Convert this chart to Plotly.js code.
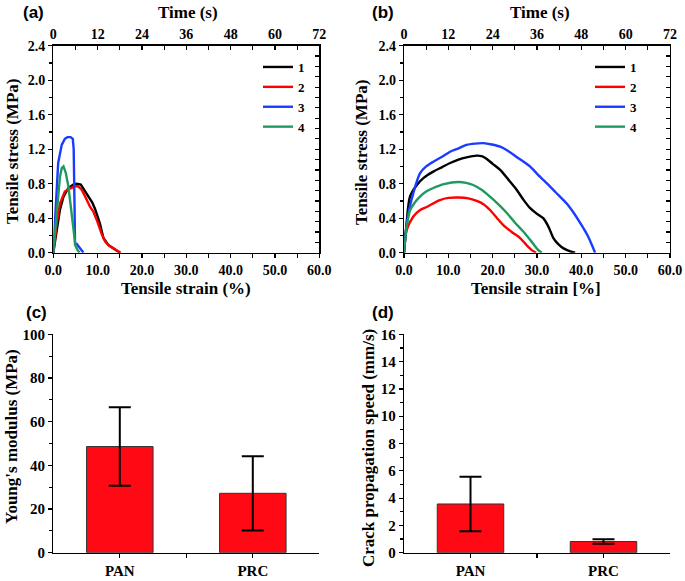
<!DOCTYPE html>
<html><head><meta charset="utf-8">
<script src="https://cdn.plot.ly/plotly-3.0.1.min.js"></script>
<style>html,body{margin:0;padding:0;background:#fff}#chart{width:685px;height:581px}</style>
</head><body><div id="chart"></div>
<script>
// ---- Panel (a) tensile curves ----
const a1x=[0,0.8,1.5,2.3,3.4,4.5,5.3,6.2,6.8,7.9,8.8,9.4,10.5,11.3,12.4,13.6,15.0];
const a1y=[0,0.3,0.5,0.65,0.75,0.79,0.80,0.79,0.74,0.65,0.58,0.51,0.34,0.17,0.09,0.05,0];
const a2x=[0,0.8,1.5,2.6,3.6,4.9,5.6,6.4,7.2,8.3,9.0,9.8,10.9,11.7,12.6,14.0,15.2];
const a2y=[0,0.35,0.57,0.71,0.74,0.77,0.77,0.73,0.65,0.53,0.48,0.38,0.22,0.13,0.08,0.04,0];
const a3x=[0,0.5,1.1,1.9,2.6,3.2,3.9,4.4,4.6,4.8,4.9,5.3,6.0,6.8];
const a3y=[0,0.55,1.04,1.25,1.32,1.34,1.34,1.32,1.2,0.5,0.1,0.1,0.05,0];
const a4x=[0,0.6,1.1,1.5,1.9,2.3,2.8,3.4,3.8,4.1,4.5,4.7,5.0,5.5,5.9];
const a4y=[0,0.4,0.65,0.88,0.98,1.0,0.93,0.77,0.6,0.42,0.25,0.15,0.08,0.03,0];
// ---- Panel (b) tensile curves ----
const b1x=[0,0.6,1.35,2.9,4.5,6.6,8.5,10.4,12.3,14.1,16.4,17.5,18.6,20.0,21.7,23.5,25.4,27.0,28.4,30.0,31.4,32.6,33.7,34.8,36.0,37.5,38.6];
const b1y=[0,0.35,0.65,0.785,0.87,0.94,0.99,1.04,1.08,1.105,1.125,1.12,1.09,1.03,0.96,0.85,0.73,0.61,0.52,0.45,0.40,0.30,0.17,0.1,0.05,0.015,0];
const b2x=[0,0.6,2.1,3.5,5.1,8.1,10.0,12.3,14.5,16.4,18.0,19.4,21.0,22.4,24.3,26.2,27.6,28.8,29.8];
const b2y=[0,0.26,0.42,0.49,0.53,0.61,0.635,0.64,0.63,0.60,0.56,0.495,0.40,0.32,0.24,0.17,0.09,0.03,0];
const b3x=[0,0.8,2.1,3.6,5.0,6.6,8.5,10.4,12.3,14.1,16.0,17.9,19.8,21.7,23.5,25.4,28.4,30.3,32.9,34.8,36.7,38.3,39.8,41.5,43.1];
const b3y=[0,0.4,0.69,0.92,1.0,1.055,1.11,1.17,1.21,1.25,1.265,1.27,1.255,1.23,1.18,1.11,1.0,0.90,0.77,0.67,0.57,0.46,0.34,0.19,0];
const b4x=[0,0.6,1.35,2.4,3.6,5.0,6.6,9.0,12.3,14.0,15.6,17.5,19.4,21.3,23.2,25.0,26.9,28.6,30.3,31.1];
const b4y=[0,0.3,0.49,0.58,0.65,0.71,0.75,0.795,0.82,0.81,0.785,0.73,0.65,0.56,0.46,0.35,0.245,0.14,0.03,0];
const seriesNames=['1','2','3','4'];
// ---- Panels (c),(d) bars ----
const categories=['PAN','PRC'];
const modulus=[48.6,27.2];
const modulusErr=[18.0,17.0];
const crackSpeed=[3.57,0.82];
const crackErr=[2.0,0.17];

const colors=['#000000','#ff0000','#1a3cff','#1f9a5f'];
const serif='Liberation Serif';
const tickFont={family:serif,size:14,color:'#000',weight:'bold'};
const titleFont={family:serif,size:17,color:'#000',weight:'bold'};

const data=[];
const aX=[a1x,a2x,a3x,a4x], aY=[a1y,a2y,a3y,a4y];
const bX=[b1x,b2x,b3x,b4x], bY=[b1y,b2y,b3y,b4y];
for(let i=0;i<4;i++){
  data.push({type:'scatter',mode:'lines',x:aX[i],y:aY[i],name:seriesNames[i],xaxis:'x',yaxis:'y',
    line:{color:colors[i],width:2.4},legend:'legend'});
}
for(let i=0;i<4;i++){
  data.push({type:'scatter',mode:'lines',x:bX[i],y:bY[i],name:seriesNames[i],xaxis:'x3',yaxis:'y3',
    line:{color:colors[i],width:2.4,shape:'spline',smoothing:0.8},legend:'legend2'});
}
// empty carrier traces so the secondary (time / right) axes get drawn
data.push({type:'scatter',mode:'lines',x:[null],y:[null],xaxis:'x2',yaxis:'y2',showlegend:false,hoverinfo:'skip'});
data.push({type:'scatter',mode:'lines',x:[null],y:[null],xaxis:'x4',yaxis:'y4',showlegend:false,hoverinfo:'skip'});
const catIdx=categories.map((c,i)=>i);
data.push({type:'bar',x:catIdx,y:modulus,xaxis:'x5',yaxis:'y5',width:0.5,showlegend:false,
  marker:{color:'#ff0a14',line:{color:'#333',width:1}},
  error_y:{type:'data',array:modulusErr,visible:true,color:'#000',thickness:2,width:11}});
data.push({type:'bar',x:catIdx,y:crackSpeed,xaxis:'x6',yaxis:'y6',width:0.5,showlegend:false,
  marker:{color:'#ff0a14',line:{color:'#333',width:1}},
  error_y:{type:'data',array:crackErr,visible:true,color:'#000',thickness:2,width:11}});

const W=685,H=581;
const dxL=[53.3/W,319.3/W], dxR=[404/W,670/W];
const dyT=[(H-252.7)/H,(H-45.7)/H], dyB=[(H-552.7)/H,(H-334.3)/H];
const base={showgrid:false,zeroline:false,showline:true,linecolor:'#000',linewidth:1.3,
  tickcolor:'#000',tickwidth:1.2,tickfont:tickFont};

function strainAxis(dom,anchor){return Object.assign({},base,{domain:dom,anchor:anchor,range:[0,60],
  dtick:10,tick0:0,tickformat:'.1f',ticks:'outside',ticklen:4,
  minor:{dtick:5,ticks:'outside',ticklen:4,tickcolor:'#000'}});}
function timeAxis(ov,anchor){return Object.assign({},base,{overlaying:ov,anchor:anchor,side:'top',range:[0,72],
  dtick:12,tick0:0,ticks:'inside',ticklen:4,
  minor:{dtick:6,ticks:'inside',ticklen:4,tickcolor:'#000'}});}
function stressAxis(dom,anchor){return Object.assign({},base,{domain:dom,anchor:anchor,range:[0,2.4],
  dtick:0.4,tick0:0,tickformat:'.1f',ticks:'outside',ticklen:4,
  minor:{dtick:0.2,ticks:'outside',ticklen:3,tickcolor:'#000'}});}
function rightAxis(ov,anchor){return Object.assign({},base,{overlaying:ov,anchor:anchor,side:'right',range:[0,2.4],
  dtick:0.12,tick0:0,ticks:'inside',ticklen:4,showticklabels:false});}
function catAxis(dom,anchor){return Object.assign({},base,{domain:dom,anchor:anchor,range:[-0.5,1.5],
  tickmode:'array',tickvals:[0,0.5,1],ticktext:[categories[0],'',categories[1]],ticks:'outside',ticklen:4,
  tickfont:{family:serif,size:15,color:'#000',weight:'bold'}});}
function barY(dom,anchor,max,dt){return Object.assign({},base,{domain:dom,anchor:anchor,range:[0,max],
  dtick:dt,tick0:0,ticks:'outside',ticklen:4,
  minor:{dtick:dt/2,ticks:'outside',ticklen:3,tickcolor:'#000'},
  tickfont:{family:serif,size:15,color:'#000',weight:'bold'}});}

function ann(text,xpx,ypx,opts){return Object.assign({text:text,xref:'paper',yref:'paper',x:xpx/W,y:1-ypx/H,
  xanchor:'center',yanchor:'middle',showarrow:false,font:titleFont},opts||{});}
const panelFont={family:'Liberation Sans',size:17,color:'#000',weight:'bold'};

const legendBase={bgcolor:'rgba(0,0,0,0)',borderwidth:0,font:{family:serif,size:13,color:'#000',weight:'bold'},
  xanchor:'left',yanchor:'top',tracegroupgap:0,itemwidth:30};

const layout={
  width:W,height:H,margin:{l:0,r:0,t:0,b:0},paper_bgcolor:'#fff',plot_bgcolor:'rgba(0,0,0,0)',
  xaxis:strainAxis(dxL,'y'), xaxis2:timeAxis('x','y'),
  yaxis:stressAxis(dyT,'x'), yaxis2:rightAxis('y','x'),
  xaxis3:strainAxis(dxR,'y3'), xaxis4:timeAxis('x3','y3'),
  yaxis3:stressAxis(dyT,'x3'), yaxis4:rightAxis('y3','x3'),
  xaxis5:catAxis(dxL,'y5'), yaxis5:barY(dyB,'x5',100,20),
  xaxis6:catAxis(dxR,'y6'), yaxis6:barY(dyB,'x6',16,2),
  legend:Object.assign({},legendBase,{x:258/W,y:1-52/H}),
  legend2:Object.assign({},legendBase,{x:590/W,y:1-52/H}),
  annotations:[
    ann('(a)',33,13,{font:panelFont}),
    ann('(b)',383,13,{font:panelFont}),
    ann('(c)',36,312,{font:panelFont}),
    ann('(d)',383,312,{font:panelFont}),
    ann('Time (s)',188,13),
    ann('Time (s)',540,13),
    ann('Tensile strain (%)',186,288),
    ann('Tensile strain [%]',536,288),
    ann('Tensile stress (MPa)',12,152,{textangle:-90}),
    ann('Tensile stress (MPa)',361,152,{textangle:-90}),
    ann("Young's modulus (MPa)",11,437,{textangle:-90}),
    ann('Crack propagation speed (mm/s)',368,448,{textangle:-90})
  ]
};
Plotly.newPlot('chart',data,layout,{displayModeBar:false,staticPlot:true});
</script>
</body></html>
